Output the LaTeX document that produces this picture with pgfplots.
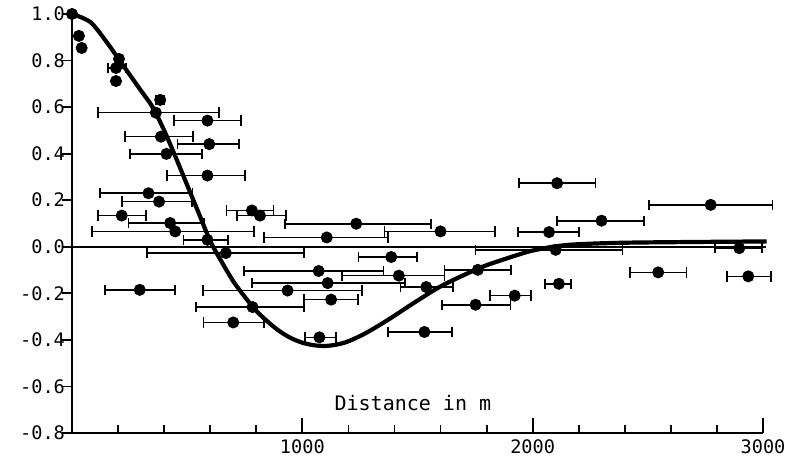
\documentclass[border=0pt]{standalone}
\usepackage{fontspec}
\newfontfamily\plotfont{DejaVu Sans Mono}
\usepackage{pgfplots}
\pgfplotsset{compat=1.18}
\usepackage{pgfplotstable}

% points with horizontal ranges: x y lo hi
\pgfplotstableread{
x    y      lo    hi
191  0.768  157   235
383  0.631  365   400
364  0.576  114   639
588  0.542  444   734
386  0.473  229   526
596  0.441  458   726
410  0.399  252   564
588  0.306  412   752
332  0.230  120   523
378  0.194  216   522
216  0.134  114   323
426  0.102  245   574
448  0.066  86    791
588  0.030  484   678
668  -0.027 325   1006
294  -0.185 142   447
784  -0.259 538   1006
700  -0.325 571   835
781  0.156  671   875
816  0.134  716   929
1234 0.099  926   1560
1600 0.066  1357  1838
1106 0.040  835   1371
1386 -0.044 1244  1499
1071 -0.104 748   1352
1419 -0.124 1171  1617
1762 -0.099 1617  1907
1110 -0.156 780   1447
1538 -0.173 1426  1654
936  -0.188 567   1260
1125 -0.227 1006  1241
1074 -0.389 1013  1147
1530 -0.366 1371  1649
1752 -0.249 1607  1904
1922 -0.210 1813  1994
2106 0.273  1939  2273
2773 0.180  2504  3041
2299 0.112  2106  2483
2071 0.063  1936  2201
2100 -0.013 1752  2390
2897 -0.006 2791  2997
2545 -0.110 2422  2668
2936 -0.127 2842  3033
2114 -0.159 2052  2168
}\pts

% points without ranges
\pgfplotstableread{
x    y
0    1.000
30   0.906
42   0.854
204  0.807
191  0.712
}\single

% fitted curve
\pgfplotstableread{
x    y
0    1.000
80   0.965
150  0.880
200  0.810
250  0.740
300  0.670
350  0.600
400  0.500
450  0.385
500  0.265
550  0.145
600  0.025
650  -0.065
700  -0.148
750  -0.215
800  -0.275
850  -0.322
900  -0.362
950  -0.392
1000 -0.412
1050 -0.423
1100 -0.426
1150 -0.420
1200 -0.406
1277 -0.370
1378 -0.310
1494 -0.235
1610 -0.165
1770 -0.091
1857 -0.060
1944 -0.032
2001 -0.016
2100 0.002
2200 0.011
2436 0.018
3016 0.023
}\curve

\begin{document}
\begin{tikzpicture}
\begin{axis}[
  scale only axis,
  width=345.5pt, height=209.5pt,
  xmin=0, xmax=3000, ymin=-0.8, ymax=1.0,
  clip=false,
  axis x line=bottom, axis y line=left,
  axis line style={-, line width=1.1pt},
  tick align=inside,
  xtick={1000,2000,3000},
  minor xtick={200,400,600,800,1200,1400,1600,1800,2200,2400,2600,2800},
  major tick length=7.5pt, minor tick length=4pt,
  xtick style={line width=0.9pt, black},
  ytick={-0.8,-0.6,-0.4,-0.2,0,0.2,0.4,0.6,0.8,1.0},
  yticklabels={-0.8,-0.6,-0.4,-0.2,0.0,0.2,0.4,0.6,0.8,1.0},
  xticklabels={1000,2000,3000},
  ytick style={draw=none},
  ticklabel style={font=\plotfont\fontsize{9.3}{11}\selectfont},
  yticklabel style={xshift=0pt},
]
\coordinate (O) at (axis cs:0,-0.8);
\pgfplotsinvokeforeach{-0.8,-0.6,-0.4,-0.2,0,0.2,0.4,0.6,0.8,1.0}{
  \draw[line width=0.9pt] (axis cs:0,#1) -- ([xshift=-5pt]axis cs:0,#1);
}
\addplot[line width=0.75pt] coordinates {(0,0) (3015,0)};
\addplot[only marks, mark=*, mark size=2.8pt,
  error bars/.cd, x dir=both, x explicit,
  error mark=|,
  error bar style={line width=0.8pt},
  error mark options={mark size=2.6pt, line width=0.9pt}]
  table[x=x, y=y,
    x error plus expr=\thisrow{hi}-\thisrow{x},
    x error minus expr=\thisrow{x}-\thisrow{lo}] {\pts};
\addplot[only marks, mark=*, mark size=2.8pt] table[x=x, y=y] {\single};
\addplot[line width=2.1pt, smooth, tension=0.5] table[x=x, y=y] {\curve};
\node[font=\plotfont\fontsize{10}{12}\selectfont] at (axis cs:1480,-0.67) {Distance in m};
\end{axis}
\pgfresetboundingbox
\path[use as bounding box] ([shift={(-36pt,-13.5pt)}]O) rectangle ([shift={(356.5pt,216.5pt)}]O);
\end{tikzpicture}
\end{document}
